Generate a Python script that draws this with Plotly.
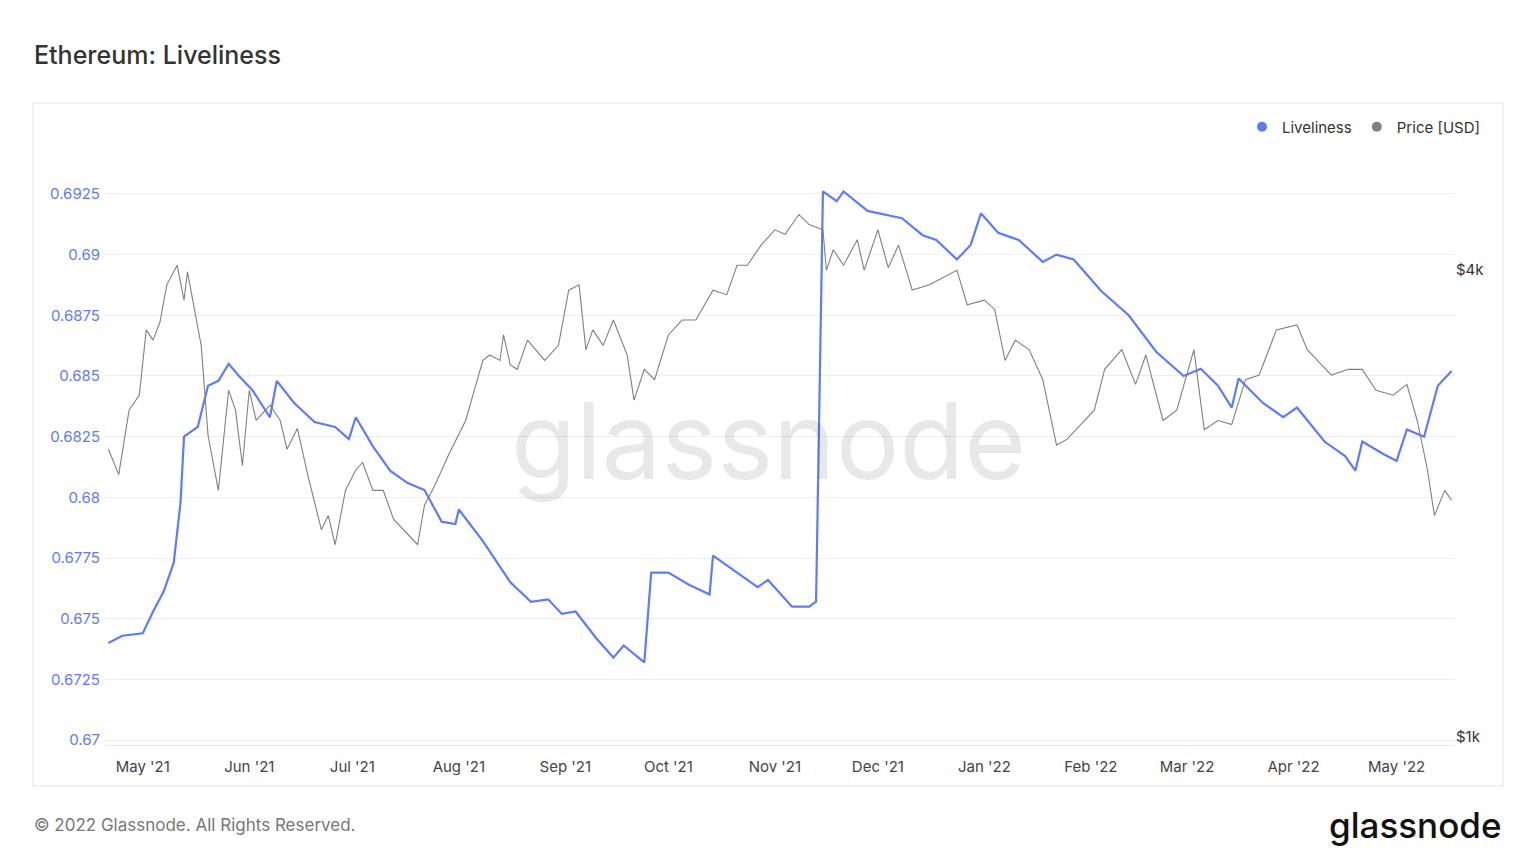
import plotly.graph_objects as go

live_dates = ["2021-04-21","2021-04-25","2021-05-01","2021-05-04","2021-05-07","2021-05-10","2021-05-12","2021-05-13","2021-05-17","2021-05-20","2021-05-23","2021-05-26","2021-05-29","2021-06-02","2021-06-07","2021-06-09","2021-06-14","2021-06-20","2021-06-26","2021-06-30","2021-07-02","2021-07-07","2021-07-12","2021-07-17","2021-07-22","2021-07-27","2021-07-31","2021-08-01","2021-08-08","2021-08-16","2021-08-22","2021-08-27","2021-08-31","2021-09-04","2021-09-10","2021-09-15","2021-09-18","2021-09-24","2021-09-26","2021-10-01","2021-10-07","2021-10-13","2021-10-14","2021-10-21","2021-10-27","2021-10-30","2021-11-06","2021-11-11","2021-11-13","2021-11-15","2021-11-19","2021-11-21","2021-11-28","2021-12-08","2021-12-14","2021-12-18","2021-12-24","2021-12-28","2021-12-31","2022-01-05","2022-01-11","2022-01-18","2022-01-22","2022-01-27","2022-02-04","2022-02-12","2022-02-20","2022-02-28","2022-03-05","2022-03-10","2022-03-14","2022-03-16","2022-03-23","2022-03-29","2022-04-02","2022-04-10","2022-04-16","2022-04-19","2022-04-21","2022-04-27","2022-05-01","2022-05-04","2022-05-09","2022-05-13","2022-05-17"]
liveliness = [0.6740,0.6743,0.6744,0.6753,0.6761,0.6773,0.6798,0.6825,0.6829,0.6846,0.6848,0.6855,0.6850,0.6844,0.6833,0.6848,0.6839,0.6831,0.6829,0.6824,0.6833,0.6821,0.6811,0.6806,0.6803,0.6790,0.6789,0.6795,0.6782,0.6765,0.6757,0.6758,0.6752,0.6753,0.6742,0.6734,0.6739,0.6732,0.6769,0.6769,0.6764,0.6760,0.6776,0.6769,0.6763,0.6766,0.6755,0.6755,0.6757,0.6926,0.6922,0.6926,0.6918,0.6915,0.6908,0.6906,0.6898,0.6904,0.6917,0.6909,0.6906,0.6897,0.6900,0.6898,0.6885,0.6875,0.6860,0.6850,0.6853,0.6846,0.6837,0.6849,0.6839,0.6833,0.6837,0.6823,0.6817,0.6811,0.6823,0.6818,0.6815,0.6828,0.6825,0.6846,0.6852]

price_dates = ["2021-04-21","2021-04-24","2021-04-27","2021-04-30","2021-05-02","2021-05-04","2021-05-06","2021-05-08","2021-05-11","2021-05-13","2021-05-14","2021-05-18","2021-05-20","2021-05-23","2021-05-26","2021-05-28","2021-05-30","2021-06-01","2021-06-03","2021-06-07","2021-06-10","2021-06-12","2021-06-15","2021-06-18","2021-06-22","2021-06-24","2021-06-26","2021-06-29","2021-07-02","2021-07-04","2021-07-07","2021-07-10","2021-07-13","2021-07-16","2021-07-20","2021-07-22","2021-07-25","2021-07-29","2021-08-03","2021-08-06","2021-08-08","2021-08-10","2021-08-13","2021-08-14","2021-08-16","2021-08-18","2021-08-21","2021-08-26","2021-08-30","2021-09-02","2021-09-05","2021-09-07","2021-09-09","2021-09-12","2021-09-15","2021-09-19","2021-09-21","2021-09-24","2021-09-27","2021-10-01","2021-10-05","2021-10-09","2021-10-14","2021-10-18","2021-10-21","2021-10-24","2021-10-28","2021-11-01","2021-11-04","2021-11-08","2021-11-11","2021-11-15","2021-11-16","2021-11-18","2021-11-21","2021-11-25","2021-11-27","2021-12-01","2021-12-04","2021-12-07","2021-12-11","2021-12-16","2021-12-20","2021-12-24","2021-12-27","2022-01-01","2022-01-04","2022-01-07","2022-01-10","2022-01-14","2022-01-18","2022-01-22","2022-01-25","2022-01-30","2022-02-02","2022-02-05","2022-02-10","2022-02-14","2022-02-17","2022-02-22","2022-02-26","2022-03-03","2022-03-06","2022-03-10","2022-03-14","2022-03-18","2022-03-22","2022-03-27","2022-04-02","2022-04-05","2022-04-08","2022-04-12","2022-04-17","2022-04-21","2022-04-25","2022-04-30","2022-05-04","2022-05-07","2022-05-10","2022-05-12","2022-05-15","2022-05-17"]
price = [2350,2180,2640,2760,3350,3250,3430,3830,4060,3660,3980,3200,2450,2080,2800,2640,2240,2800,2560,2680,2560,2350,2500,2180,1850,1930,1770,2080,2210,2260,2080,2080,1910,1850,1770,1990,2110,2310,2560,2850,3060,3110,3060,3300,3020,2980,3250,3060,3200,3770,3830,3160,3350,3200,3450,3110,2720,2980,2890,3300,3450,3450,3770,3720,4060,4060,4310,4510,4450,4720,4580,4510,4000,4250,4060,4380,4000,4510,4030,4310,3770,3830,3910,4000,3610,3660,3560,3060,3250,3160,2890,2380,2420,2560,2640,2980,3160,2850,3110,2560,2640,3160,2490,2560,2530,2890,2930,3350,3400,3160,3060,2930,2980,2980,2800,2760,2850,2560,2210,1930,2080,2020]

BLUE = "#5f7cf0"
GRAY = "#808080"
fig = go.Figure()
fig.add_trace(go.Scatter(x=live_dates, y=liveliness, name="Liveliness", mode="lines",
                         line=dict(color=BLUE, width=2.2), yaxis="y", showlegend=False))
fig.add_trace(go.Scatter(x=price_dates, y=price, name="Price [USD]", mode="lines",
                         line=dict(color=GRAY, width=1.1), yaxis="y2", showlegend=False))
fig.add_trace(go.Scatter(x=[None], y=[None], name="Liveliness", mode="markers",
                         marker=dict(color=BLUE, size=10), yaxis="y"))
fig.add_trace(go.Scatter(x=[None], y=[None], name="Price [USD]", mode="markers",
                         marker=dict(color=GRAY, size=10), yaxis="y"))

fig.update_layout(
    width=1536, height=864, paper_bgcolor="white", plot_bgcolor="white",
    margin=dict(l=97, r=89, t=132, b=127),
    font=dict(family="Inter, sans-serif", size=15, color="#333"),
    showlegend=True,
    legend=dict(orientation="h", x=(1485-105)/1350, xanchor="right", y=(745-127)/605, yanchor="middle",
                font=dict(size=15, color="#333"), itemwidth=30, bgcolor="rgba(0,0,0,0)"),
    xaxis=dict(type="date", range=["2021-04-20", "2022-05-18"], showgrid=False,
               tickformat="%b '%y", dtick="M1", tick0="2021-05-01", ticks="",
               showline=True, linecolor="#e6e6e6", tickfont=dict(size=15, color="#444"),
               ticklabelstandoff=8),
    yaxis=dict(range=[0.6698, 0.69472], tickvals=[0.67,0.6725,0.675,0.6775,0.68,0.6825,0.685,0.6875,0.69,0.6925],
               ticktext=["0.67","0.6725","0.675","0.6775","0.68","0.6825","0.685","0.6875","0.69","0.6925"],
               tickfont=dict(size=15, color=BLUE), gridcolor="#eeeeee", zeroline=False, ticklabelstandoff=4),
    yaxis2=dict(type="log", overlaying="y", side="right", range=[2.9897, 3.770],
                tickvals=[1000, 4000], ticktext=["$1k", "$4k"], showgrid=False,
                tickfont=dict(size=15, color="#333"), zeroline=False),
    shapes=[dict(type="rect", xref="paper", yref="paper", x0=-72/1350, x1=(1503-105)/1350,
                 y0=-41/605, y1=(745-103)/605, line=dict(color="#e3e3e3", width=1), layer="below")],
    annotations=[
        dict(text="Ethereum: Liveliness", xref="paper", yref="paper", x=-73/1350, y=(745-55)/605,
             xanchor="left", yanchor="middle", showarrow=False,
             font=dict(size=25, color="#333", weight=500)),
        dict(text="glassnode", xref="paper", yref="paper", x=(768-105)/1350, y=(745-440)/605,
             showarrow=False, font=dict(size=106, color="rgba(0,0,0,0.09)")),
        dict(text="© 2022 Glassnode. All Rights Reserved.", xref="paper", yref="paper",
             x=-73/1350, y=(745-825)/605, xanchor="left", yanchor="middle", showarrow=False,
             font=dict(size=17, color="#777")),
        dict(text="glassnode", xref="paper", yref="paper", x=(1503-105)/1350, y=(745-825)/605,
             xanchor="right", yanchor="middle", showarrow=False,
             font=dict(size=35, color="#111", weight=500)),
    ],
)
fig.write_html("out.html")
